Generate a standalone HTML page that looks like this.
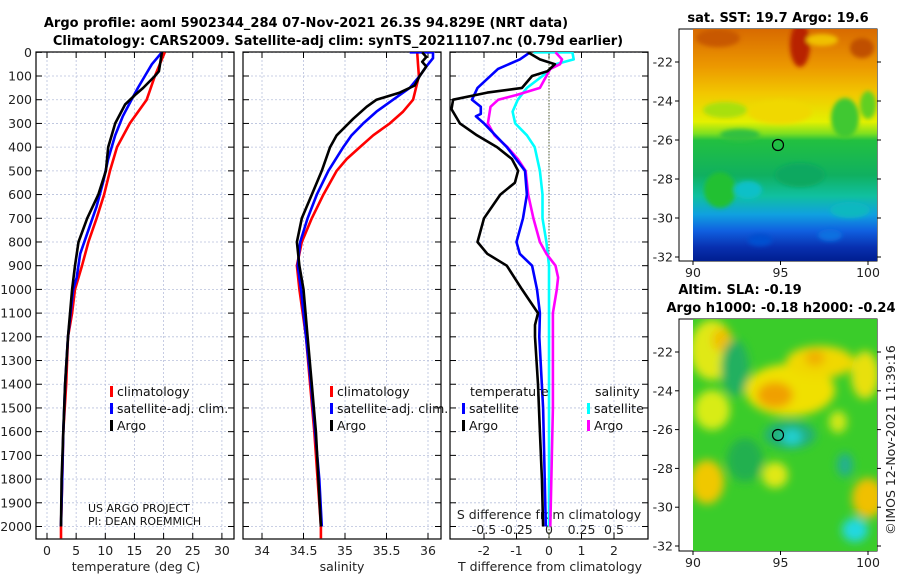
<!DOCTYPE html>
<html><head><meta charset="utf-8"><style>
html,body{margin:0;padding:0;background:#fff;width:900px;height:580px;overflow:hidden}
svg{display:block;font-family:"DejaVu Sans","Liberation Sans",sans-serif}
.tk{font-size:12.5px;fill:#222}
.ttl{font-size:13px;font-weight:bold;fill:#000}
.lg{font-size:12.5px;fill:#111}
</style></head><body>
<svg id="chart" width="900" height="580" viewBox="0 0 900 580" xmlns="http://www.w3.org/2000/svg">
<defs>
<filter id="bl" x="-30%" y="-30%" width="160%" height="160%"><feGaussianBlur stdDeviation="4.5"/></filter>
<filter id="bl2"><feGaussianBlur stdDeviation="2"/></filter>
<clipPath id="c1"><rect x="693" y="29" width="184" height="232"/></clipPath>
<clipPath id="c2"><rect x="693" y="319" width="184" height="232"/></clipPath>
<clipPath id="p1"><rect x="36" y="52" width="198" height="487"/></clipPath>
<clipPath id="p2"><rect x="243" y="52" width="198" height="487"/></clipPath>
<clipPath id="p3"><rect x="450" y="52" width="198" height="487"/></clipPath>
<linearGradient id="sstg" x1="0" y1="0" x2="0" y2="1">
<stop offset="0" stop-color="#d86a00"/><stop offset="0.16" stop-color="#ec9800"/><stop offset="0.28" stop-color="#f2c800"/><stop offset="0.4" stop-color="#e4f000"/><stop offset="0.45" stop-color="#80e020"/><stop offset="0.48" stop-color="#22c040"/><stop offset="0.63" stop-color="#10b060"/><stop offset="0.72" stop-color="#10c0a0"/><stop offset="0.8" stop-color="#10a0e0"/><stop offset="0.87" stop-color="#1060e0"/><stop offset="0.94" stop-color="#0830b0"/><stop offset="1" stop-color="#001e90"/>
</linearGradient>
</defs>
<text class="ttl" x="306" y="27" text-anchor="middle">Argo profile: aoml 5902344_284 07-Nov-2021 26.3S 94.829E (NRT data)</text>
<text class="ttl" x="338" y="45" text-anchor="middle">Climatology: CARS2009. Satellite-adj clim: synTS_20211107.nc (0.79d earlier)</text>
<g id="panels"></g>
<g id="maps">
<text class="ttl" x="778" y="22" text-anchor="middle">sat. SST: 19.7 Argo: 19.6</text>
<rect x="679" y="29" width="198" height="232" fill="#fff" stroke="#000" stroke-width="1"/>
<g clip-path="url(#c1)">
<rect x="693" y="29" width="184" height="232" fill="url(#sstg)"/>
<g filter="url(#bl2)">
<ellipse cx="800" cy="45" rx="10" ry="22" fill="#b82000"/>
<ellipse cx="822" cy="40" rx="16" ry="6" fill="#f0c000"/>
<ellipse cx="862" cy="48" rx="12" ry="10" fill="#c05000"/>
<ellipse cx="718" cy="38" rx="22" ry="9" fill="#c85800"/>
<ellipse cx="845" cy="118" rx="14" ry="20" fill="#40c830"/>
<ellipse cx="868" cy="105" rx="8" ry="14" fill="#60d020"/>
<ellipse cx="725" cy="110" rx="22" ry="8" fill="#a8e010"/>
<ellipse cx="780" cy="112" rx="32" ry="12" fill="#f0d800"/>
<ellipse cx="740" cy="135" rx="20" ry="6" fill="#30c040"/>
<ellipse cx="720" cy="190" rx="16" ry="18" fill="#20c030"/>
<ellipse cx="748" cy="190" rx="14" ry="9" fill="#10c0c8"/>
<ellipse cx="800" cy="175" rx="25" ry="12" fill="#10a860"/>
<ellipse cx="850" cy="210" rx="20" ry="8" fill="#10b8c0"/>
<ellipse cx="760" cy="240" rx="12" ry="6" fill="#0050d0"/>
<ellipse cx="830" cy="235" rx="12" ry="6" fill="#1070e0"/>
</g>
</g>
<circle cx="778" cy="145" r="5.5" fill="none" stroke="#000" stroke-width="1.2"/>
<text class="ttl" x="740" y="294" text-anchor="middle">Altim. SLA: -0.19</text>
<text class="ttl" x="781" y="312" text-anchor="middle">Argo h1000: -0.18 h2000: -0.24</text>
<rect x="679" y="319" width="198" height="232" fill="#fff" stroke="#000" stroke-width="1"/>
<g clip-path="url(#c2)">
<rect x="693" y="319" width="184" height="232" fill="#3acc2a"/>
<g filter="url(#bl)">
<ellipse cx="712" cy="350" rx="22" ry="30" fill="#e0e818"/>
<ellipse cx="722" cy="340" rx="10" ry="12" fill="#f0c000"/>
<ellipse cx="790" cy="390" rx="45" ry="26" fill="#f0e000"/>
<ellipse cx="775" cy="395" rx="18" ry="13" fill="#f0a000"/>
<ellipse cx="820" cy="362" rx="34" ry="16" fill="#f0d800"/>
<ellipse cx="815" cy="358" rx="10" ry="8" fill="#f0b000"/>
<ellipse cx="865" cy="375" rx="14" ry="24" fill="#e8e010"/>
<ellipse cx="712" cy="410" rx="18" ry="20" fill="#d8ec18"/>
<ellipse cx="707" cy="482" rx="17" ry="22" fill="#f0c800"/>
<ellipse cx="775" cy="475" rx="13" ry="13" fill="#e0e818"/>
<ellipse cx="868" cy="498" rx="16" ry="20" fill="#f0c000"/>
<ellipse cx="838" cy="422" rx="9" ry="11" fill="#d0e818"/>
<ellipse cx="735" cy="368" rx="14" ry="28" fill="#22b060"/>
<ellipse cx="790" cy="435" rx="26" ry="14" fill="#20b078"/>
<ellipse cx="792" cy="437" rx="10" ry="8" fill="#20d0d0"/>
<ellipse cx="845" cy="465" rx="8" ry="12" fill="#20b090"/>
<ellipse cx="855" cy="530" rx="13" ry="12" fill="#20d8e0"/>
<ellipse cx="745" cy="460" rx="18" ry="22" fill="#22b050"/>
</g>
</g>
<circle cx="778" cy="435" r="5.5" fill="none" stroke="#000" stroke-width="1.2"/>
<text class="tk" x="0" y="0" transform="translate(895,440) rotate(-90)" text-anchor="middle">©IMOS 12-Nov-2021 11:39:16</text>
</g>
<g id="mapaxes"></g>
</svg>
<script>
const NS="http://www.w3.org/2000/svg";
// ---- data ----
const depthLabels=[0,100,200,300,400,500,600,700,800,900,1000,1100,1200,1300,1400,1500,1600,1700,1800,1900,2000];
const tTicks=[0,5,10,15,20,25,30];
const sTicks=[34,34.5,35,35.5,36];
const dTTicks=[-2,-1,0,1,2];
const dSTicks=[-0.5,-0.25,0,0.25,0.5];
const dSTickLabels=["-0.5","-0.25","0","0.25","0.5"];
const tClimD=[0,100,200,300,400,500,600,700,800,900,1000,1100,1200,1400,1600,1800,2000,2050];
const tClimV=[20.2,18.5,17.1,14.2,12,10.8,9.8,8.5,7.1,6,4.8,4.3,3.6,3.3,2.8,2.6,2.4,2.4];
const tSatD=[0,50,100,150,200,270,350,450,550,650,750,850,950,1000,1200,1400,1600,1800,2000];
const tSatV=[19.7,18,16.8,15.6,14.5,13,11.7,10.5,9.6,8.5,7.1,5.7,5.1,4.5,3.6,3.1,2.8,2.6,2.4];
const tArgoD=[0,80,100,150,180,220,300,400,500,600,700,800,900,1000,1200,1400,1600,1800,2000];
const tArgoV=[19.7,19.2,18.5,16.5,15.1,13.4,11.7,10.5,10.1,8.8,6.9,5.4,4.8,4.3,3.6,3.1,2.8,2.5,2.4];
const sClimD=[0,50,100,200,250,300,350,400,450,500,600,700,800,900,1000,1100,1200,1400,1600,1800,2000,2050];
const sClimV=[35.87,35.88,35.89,35.82,35.70,35.54,35.34,35.18,35.02,34.90,34.74,34.60,34.48,34.42,34.45,34.49,34.53,34.58,34.63,34.67,34.71,34.71];
const sSatD=[0,0,25,60,100,150,200,250,300,350,400,500,600,700,800,900,1000,1200,1400,1600,1800,2000];
const sSatV=[35.78,36.06,36.06,35.98,35.9,35.78,35.58,35.38,35.22,35.08,34.98,34.8,34.66,34.55,34.46,34.43,34.47,34.53,34.59,34.64,34.69,34.72];
const sArgoD=[0,20,40,60,100,140,170,200,230,280,350,400,500,600,700,800,900,1000,1200,1400,1600,1800,2000];
const sArgoV=[35.93,35.98,35.93,35.98,35.9,35.84,35.66,35.38,35.26,35.1,34.9,34.82,34.72,34.6,34.48,34.42,34.45,34.5,34.55,34.6,34.65,34.68,34.71];
const dTSatD=[0,30,70,150,200,230,260,270,300,400,500,600,700,800,850,900,1000,1100,1200,1500,2000];
const dTSatV=[-0.58,-0.9,-1.57,-2.2,-2.37,-2.1,-2.1,-2.25,-2.0,-1.3,-0.74,-0.68,-0.8,-1.0,-0.9,-0.52,-0.37,-0.28,-0.3,-0.18,-0.1];
const dTArgoD=[0,30,50,80,100,150,170,200,240,300,350,400,450,500,550,600,700,800,850,900,1000,1100,1150,1200,1400,1600,1800,2000];
const dTArgoV=[-0.65,-0.28,0.18,-0.05,-0.52,-0.83,-1.9,-2.95,-3.0,-2.74,-2.22,-1.6,-1.14,-0.95,-1.05,-1.5,-2.0,-2.2,-1.9,-1.3,-0.83,-0.34,-0.43,-0.43,-0.34,-0.28,-0.22,-0.18];
const dSSatD=[0,0,30,50,100,150,200,250,300,350,400,500,600,700,800,900,1000,2000];
const dSSatV=[-0.12,0.18,0.19,0.05,-0.05,-0.17,-0.24,-0.28,-0.26,-0.17,-0.11,-0.07,-0.05,-0.05,-0.02,0,0,0];
const dSArgoD=[0,30,50,70,100,150,180,200,230,300,350,400,450,500,600,700,800,850,900,950,1000,1100,1200,1500,2000];
const dSArgoV=[0.05,0.1,0.085,0.01,-0.02,-0.07,-0.25,-0.39,-0.45,-0.47,-0.42,-0.32,-0.24,-0.18,-0.16,-0.12,-0.07,-0.02,0.05,0.07,0.06,0.03,0.03,0.03,0.01];
const lonTicks=[90,95,100];
const latTicks=[-22,-24,-26,-28,-30,-32];
// ---- scales ----
const Y0=52.3,YK=0.2371;
const yD=d=>Y0+d*YK;
const xT=v=>47+v*5.83;
const xS=v=>262+(v-34)*83;
const xDT=v=>549+v*32.5;
const xDS=v=>549+v*130;
const g=document.getElementById('panels');
function el(tag,attrs,parent){const e=document.createElementNS(NS,tag);for(const k in attrs)e.setAttribute(k,attrs[k]);(parent||g).appendChild(e);return e;}
function txt(s,x,y,cls,anchor,name,parent){const t=el('text',{x:x,y:y,class:cls,'text-anchor':anchor||'start'},parent);t.textContent=s;


return t;}
const panels=[{x0:36,x1:234,clip:'p1',name:'temperature-panel'},{x0:243,x1:441,clip:'p2',name:'salinity-panel'},{x0:450,x1:648,clip:'p3',name:'difference-panel'}];
panels.forEach((p,i)=>{
 const grp=el('g',{});
 
 
 depthLabels.forEach(d=>{const y=yD(d);
  el('line',{x1:p.x0,x2:p.x1,y1:y,y2:y,stroke:'#b8c0dc','stroke-width':0.8,'stroke-dasharray':'2,2'},grp);
  el('line',{x1:p.x0,x2:p.x0+6,y1:y,y2:y,stroke:'#000'},grp);
  el('line',{x1:p.x1-6,x2:p.x1,y1:y,y2:y,stroke:'#000'},grp);
 });
 let vt,fx;
 if(i==0){vt=tTicks;fx=xT}else if(i==1){vt=sTicks;fx=xS}else{vt=dTTicks;fx=xDT}
 vt.forEach(v=>{const x=fx(v);
  el('line',{x1:x,x2:x,y1:52,y2:539,stroke:'#b8c0dc','stroke-width':0.8,'stroke-dasharray':'2,2'},grp);
  el('line',{x1:x,x2:x,y1:533,y2:539,stroke:'#000'},grp);
  el('line',{x1:x,x2:x,y1:52,y2:58,stroke:'#000'},grp);
 });
 el('rect',{x:p.x0,y:52,width:p.x1-p.x0,height:487,fill:'none',stroke:'#000','stroke-width':1.2},grp);
});
depthLabels.forEach(d=>txt(String(d),32,yD(d)+4.5,'tk','end','depth-tick-label'));
tTicks.forEach(v=>txt(String(v),xT(v),555,'tk','middle','temp-tick-label'));
sTicks.forEach(v=>txt(String(v),xS(v),555,'tk','middle','salinity-tick-label'));
dTTicks.forEach(v=>txt(String(v),xDT(v),555,'tk','middle','tdiff-tick-label'));
dSTicks.forEach((v,k)=>txt(dSTickLabels[k],xDS(v),534,'tk','middle','sdiff-tick-label'));
txt('temperature (deg C)',136,571,'tk','middle','temp-axis-title');
txt('salinity',342,571,'tk','middle','salinity-axis-title');
txt('T difference from climatology',550,571,'tk','middle','tdiff-axis-title');
txt('S difference from climatology',549,519,'tk','middle','sdiff-axis-title');
el('line',{x1:549,x2:549,y1:52,y2:539,stroke:'#556030','stroke-width':1,'stroke-dasharray':'1.5,1.5'});
function line(D,V,fx,color,clip,name){
 const pts=D.map((d,k)=>fx(V[k]).toFixed(1)+','+yD(d).toFixed(1)).join(' ');
 const pl=el('polyline',{points:pts,fill:'none',stroke:color,'stroke-width':2.6,'stroke-linejoin':'round','clip-path':'url(#'+clip+')'});
 
 
}
line(tClimD,tClimV,xT,'#ff0000','p1','temp-climatology-line');
line(tSatD,tSatV,xT,'#0000ff','p1','temp-satellite-line');
line(tArgoD,tArgoV,xT,'#000000','p1','temp-argo-line');
line(sClimD,sClimV,xS,'#ff0000','p2','salinity-climatology-line');
line(sSatD,sSatV,xS,'#0000ff','p2','salinity-satellite-line');
line(sArgoD,sArgoV,xS,'#000000','p2','salinity-argo-line');
line(dSSatD,dSSatV,xDS,'#00ffff','p3','sdiff-satellite-line');
line(dSArgoD,dSArgoV,xDS,'#ff00ff','p3','sdiff-argo-line');
line(dTSatD,dTSatV,xDT,'#0000ff','p3','tdiff-satellite-line');
line(dTArgoD,dTArgoV,xDT,'#000000','p3','tdiff-argo-line');
function leg(x,y,color,label){
 el('rect',{x:x,y:y-10,width:3,height:11,fill:color});
 txt(label,x+7,y,'lg','start','legend-entry');
}
leg(110,396,'#ff0000','climatology');leg(110,413,'#0000ff','satellite-adj. clim.');leg(110,430,'#000','Argo');
leg(330,396,'#ff0000','climatology');leg(330,413,'#0000ff','satellite-adj. clim.');leg(330,430,'#000','Argo');
txt('temperature',470,396,'lg','start','legend-title-temperature');
leg(462,413,'#0000ff','satellite');leg(462,430,'#000','Argo');
txt('salinity',595,396,'lg','start','legend-title-salinity');
leg(587,413,'#00ffff','satellite');leg(587,430,'#ff00ff','Argo');
txt('US ARGO PROJECT',88,512,'lg','start','project-label').setAttribute('style','font-size:11px');
txt('PI: DEAN ROEMMICH',88,525,'lg','start','pi-label').setAttribute('style','font-size:11px');
// map axes
const ma=document.getElementById('mapaxes');
const xLon=v=>693+(v-90)*17.5;
const yLat1=v=>62+(-22-v)*19.5;
const yLat2=v=>352+(-22-v)*19.4;
[[yLat1,261],[yLat2,551]].forEach(([yl,bot],m)=>{
 lonTicks.forEach(v=>{const x=xLon(v);el('line',{x1:x,x2:x,y1:bot,y2:bot+4,stroke:'#000'},ma);txt(String(v),x,bot+16,'tk','middle','map-lon-tick-label',ma);});
 latTicks.forEach(v=>{const y=yl(v);el('line',{x1:675,x2:679,y1:y,y2:y,stroke:'#000'},ma);el('line',{x1:877,x2:881,y1:y,y2:y,stroke:'#000'},ma);txt(String(v),673,y+4.5,'tk','end','map-lat-tick-label',ma);});
});
</script>
</body></html>
